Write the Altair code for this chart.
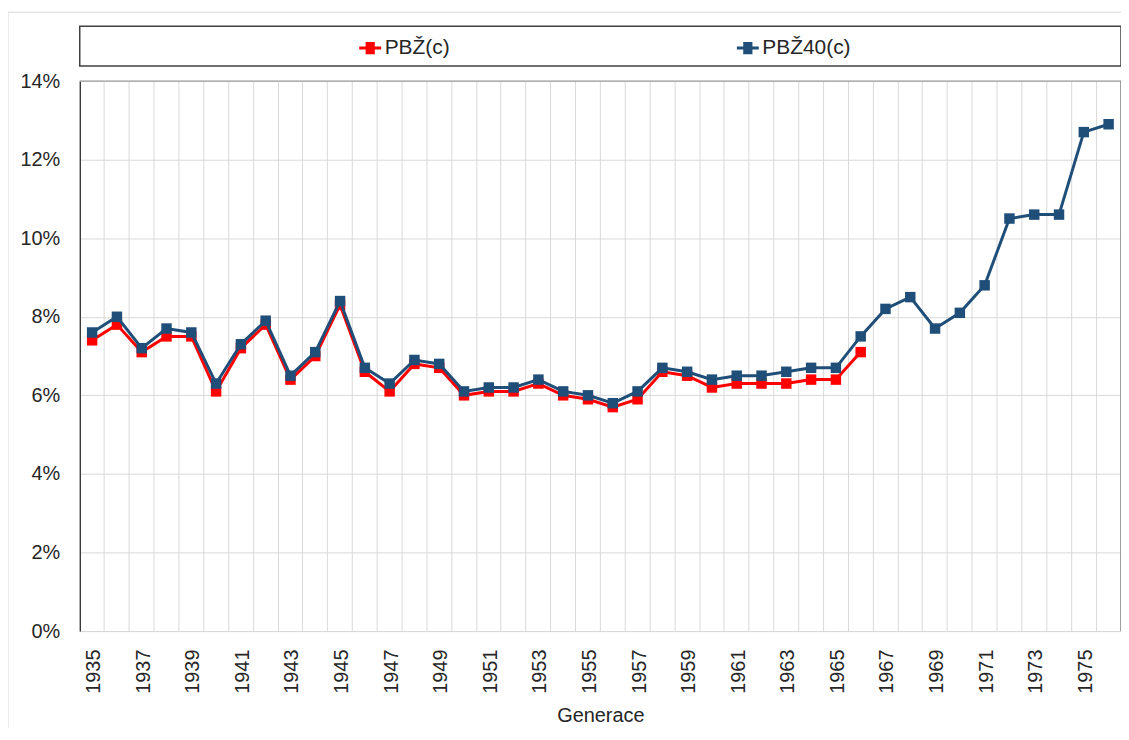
import altair as alt
import pandas as pd

years = [1935, 1936, 1937, 1938, 1939, 1940, 1941, 1942, 1943, 1944,
         1945, 1946, 1947, 1948, 1949, 1950, 1951, 1952, 1953, 1954,
         1955, 1956, 1957, 1958, 1959, 1960, 1961, 1962, 1963, 1964,
         1965, 1966, 1967, 1968, 1969, 1970, 1971, 1972, 1973, 1974,
         1975, 1976]

pbz = [7.4, 7.8, 7.1, 7.5, 7.5, 6.1, 7.2, 7.8, 6.4, 7.0,
       8.3, 6.6, 6.1, 6.8, 6.7, 6.0, 6.1, 6.1, 6.3, 6.0,
       5.9, 5.7, 5.9, 6.6, 6.5, 6.2, 6.3, 6.3, 6.3, 6.4,
       6.4, 7.1]

pbz40 = [7.6, 8.0, 7.2, 7.7, 7.6, 6.3, 7.3, 7.9, 6.5, 7.1,
         8.4, 6.7, 6.3, 6.9, 6.8, 6.1, 6.2, 6.2, 6.4, 6.1,
         6.0, 5.8, 6.1, 6.7, 6.6, 6.4, 6.5, 6.5, 6.6, 6.7,
         6.7, 7.5, 8.2, 8.5, 7.7, 8.1, 8.8, 10.5, 10.6, 10.6,
         12.7, 12.9]

series_names = ["PBŽ(c)", "PBŽ40(c)"]
series_colors = ["#FF0000", "#1F4E79"]
y_ticks = [0, 2, 4, 6, 8, 10, 12, 14]

rows = []
for y, v in zip(years, pbz):
    rows.append({"year": y, "value": v, "series": series_names[0]})
for y, v in zip(years, pbz40):
    rows.append({"year": y, "value": v, "series": series_names[1]})
df = pd.DataFrame(rows)
one = pd.DataFrame({"k": [0]})

W, H = 1045, 552
FONT = "Liberation Sans"

legend_symbol = ("M-1,0H1M-0.42,-0.42H0.42M-0.42,-0.25H0.42M-0.42,-0.08H0.42"
                 "M-0.42,0.08H0.42M-0.42,0.25H0.42M-0.42,0.42H0.42")

color = alt.Color(
    "series:N",
    scale=alt.Scale(domain=series_names, range=series_colors),
    legend=alt.Legend(
        orient="none", legendX=279, legendY=-46, direction="horizontal",
        title=None, symbolType=legend_symbol, symbolSize=484,
        symbolStrokeWidth=3, labelFontSize=21, labelOffset=2,
        columnPadding=281, padding=0, labelColor="#262626", labelFont=FONT,
    ),
)

x = alt.X(
    "year:O",
    scale=alt.Scale(type="band", paddingInner=0, paddingOuter=0, domain=years),
    axis=alt.Axis(
        title="Generace", labelAngle=270, bandPosition=0,
        labelOffset=2, ticks=False, grid=True,
        gridColor="#d9d9d9", domainColor="#d9d9d9",
        labelExpr="datum.value % 2 == 1 ? datum.label : ''",
        labelPadding=18, labelFontSize=20, titleFontSize=20,
        titlePadding=12, labelColor="#262626", titleColor="#262626",
        titleFontWeight="normal", labelOverlap=False,
    ),
)
y = alt.Y(
    "value:Q",
    scale=alt.Scale(domain=[0, 14], nice=False),
    axis=alt.Axis(
        values=y_ticks, labelExpr="datum.value + '%'", title=None,
        ticks=False, domainColor="#000000", gridColor="#d9d9d9",
        labelPadding=20, labelFontSize=20, labelColor="#262626",
    ),
)

base = alt.Chart(df)
layers = []
for name in series_names:
    sub = base.transform_filter(alt.datum.series == name)
    layers.append(sub.mark_line(strokeWidth=3).encode(x=x, y=y, color=color))
    layers.append(sub.mark_square(size=110, opacity=1).encode(x=x, y=y, color=color))

outer = alt.Chart(one).mark_rect(fillOpacity=0, stroke="#d9d9d9", strokeWidth=1).encode(
    x=alt.value(-72), x2=alt.value(W + 20), y=alt.value(-69), y2=alt.value(H + 200))
legend_frame = alt.Chart(one).mark_rect(fill="white", stroke="#404040", strokeWidth=1.5).encode(
    x=alt.value(0), x2=alt.value(W), y=alt.value(-55), y2=alt.value(-15))
top_rule = alt.Chart(one).mark_rule(color="#8c8c8c", strokeWidth=1).encode(
    x=alt.value(0), x2=alt.value(W), y=alt.value(0))
right_rule = alt.Chart(one).mark_rule(color="#7f7f7f", strokeWidth=1.5).encode(
    x=alt.value(W), y=alt.value(0), y2=alt.value(H))

chart = alt.layer(outer, legend_frame, top_rule, right_rule, *layers).properties(
    width=W, height=H,
    autosize=alt.AutoSizeParams(type="none"),
    padding={"left": 72, "top": 72, "right": 0, "bottom": 96},
).configure_view(stroke=None).configure(font=FONT)

chart.save("out.html", embed_options={"renderer": "svg", "actions": False})
